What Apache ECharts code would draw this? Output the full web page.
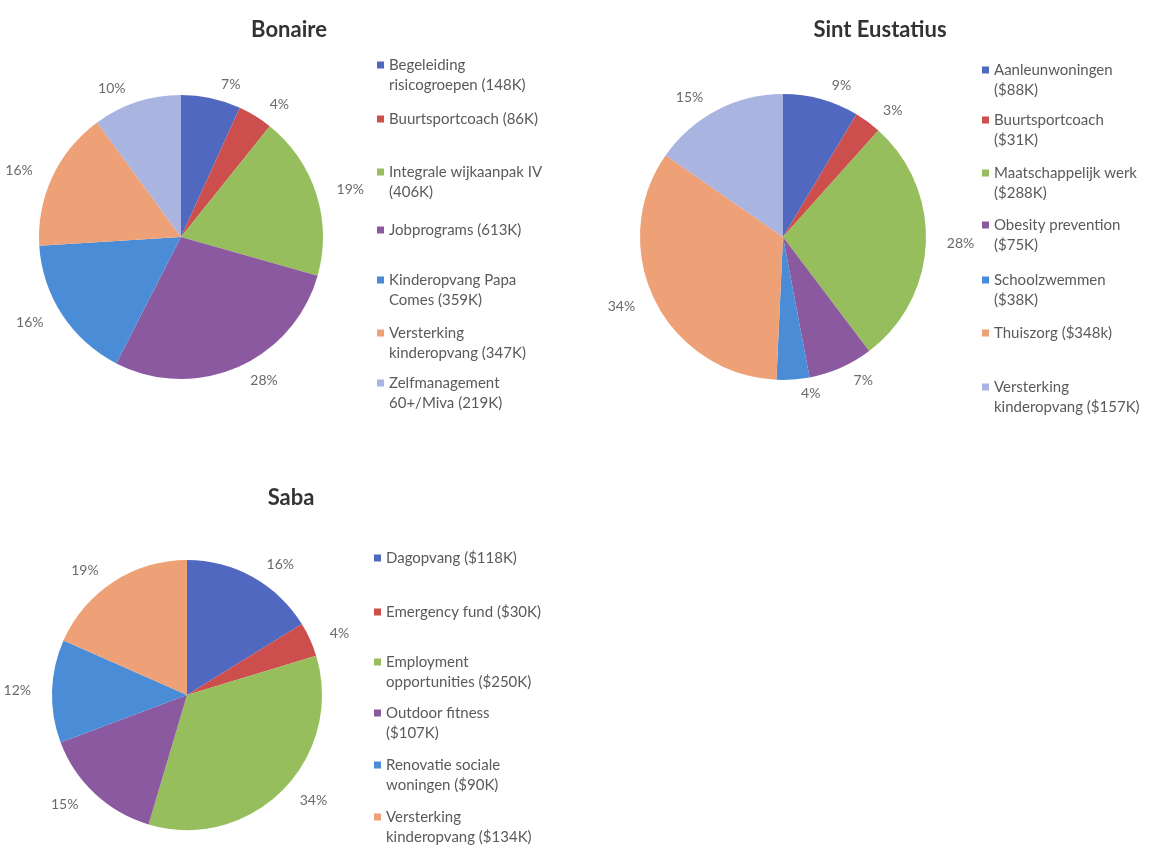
<!DOCTYPE html>
<html>
<head>
<meta charset="utf-8">
<script src="https://cdn.jsdelivr.net/npm/echarts@6/dist/echarts.min.js"></script>
<style>
html,body{margin:0;padding:0;background:#fff;}
#chart{width:1153px;height:845px;}
</style>
</head>
<body>
<div id="chart"></div>
<script>
// ---- Data ----
const titles = ['Bonaire', 'Sint Eustatius', 'Saba'];

const bonaireNames = [
  'Begeleiding\nrisicogroepen (148K)',
  'Buurtsportcoach (86K)',
  'Integrale wijkaanpak IV\n(406K)',
  'Jobprograms (613K)',
  'Kinderopvang Papa\nComes (359K)',
  'Versterking\nkinderopvang (347K)',
  'Zelfmanagement\n60+/Miva (219K)'
];
const bonaireValues = [148, 86, 406, 613, 359, 347, 219];

const eustatiusNames = [
  'Aanleunwoningen\n($88K)',
  'Buurtsportcoach\n($31K)',
  'Maatschappelijk werk\n($288K)',
  'Obesity prevention\n($75K)',
  'Schoolzwemmen\n($38K)',
  'Thuiszorg ($348k)',
  'Versterking\nkinderopvang ($157K)'
];
const eustatiusValues = [88, 31, 288, 75, 38, 348, 157];

const sabaNames = [
  'Dagopvang ($118K)',
  'Emergency fund ($30K)',
  'Employment\nopportunities ($250K)',
  'Outdoor fitness\n($107K)',
  'Renovatie sociale\nwoningen ($90K)',
  'Versterking\nkinderopvang ($134K)'
];
const sabaValues = [118, 30, 250, 107, 90, 134];

// ---- Styling / layout ----
const palette = ['#5068c0', '#cc4f4e', '#96be5c', '#8b59a0', '#4a8cd6', '#eea076', '#a9b4e0'];
const FONT = 'Lato, "Open Sans", sans-serif';
const LINE = 20;

const charts = [
  {names: bonaireNames, values: bonaireValues, center: [181, 237], r: 142,
   title: [284, 14], legendX: 377, legendTops: [65, 119, 172, 230, 280, 333, 383]},
  {names: eustatiusNames, values: eustatiusValues, center: [783, 237], r: 143,
   title: [875, 14], legendX: 982, legendTops: [70, 120, 173, 225, 280, 333, 387]},
  {names: sabaNames, values: sabaValues, center: [187, 695], r: 135,
   title: [286, 482], legendX: 374, legendTops: [558, 612, 662, 713, 765, 817]}
];

function iconFor(lines) {
  const h = LINE * lines;
  return 'path://M0,0L0.01,0M0,' + h + 'L0.01,' + h + 'M0,6.5L7,6.5L7,13.5L0,13.5Z';
}

const titleOpts = charts.map((c, i) => ({
  text: titles[i], left: c.title[0], top: c.title[1], textAlign: 'center',
  textStyle: {fontFamily: FONT, fontSize: 22, fontWeight: 'bold', color: '#333'}
}));

const legendOpts = [];
charts.forEach(c => {
  c.names.forEach((n, j) => {
    const lines = n.split('\n').length;
    legendOpts.push({
      data: [n], left: c.legendX, top: c.legendTops[j] - LINE / 2, padding: 0,
      orient: 'vertical', selectedMode: false,
      icon: iconFor(lines), itemWidth: 7, itemHeight: LINE * lines, itemGap: 0,
      itemStyle: {borderWidth: 0},
      textStyle: {fontFamily: FONT, fontSize: 15, color: '#5a5a5a', lineHeight: LINE}
    });
  });
});

const seriesOpts = charts.map(c => ({
  type: 'pie',
  center: c.center,
  radius: c.r,
  startAngle: 90,
  clockwise: true,
  avoidLabelOverlap: false,
  percentPrecision: 0,
  color: palette,
  itemStyle: {borderWidth: 0},
  label: {show: true, position: 'outside', formatter: '{d}%',
          fontFamily: FONT, fontSize: 14, color: '#6a6a6a'},
  labelLine: {show: false, length: 14, length2: 2},
  emphasis: {disabled: true},
  data: c.names.map((n, j) => ({name: n, value: c.values[j]}))
}));

const chart = echarts.init(document.getElementById('chart'));
chart.setOption({
  backgroundColor: '#ffffff',
  animation: false,
  title: titleOpts,
  legend: legendOpts,
  series: seriesOpts
});
</script>
</body>
</html>
